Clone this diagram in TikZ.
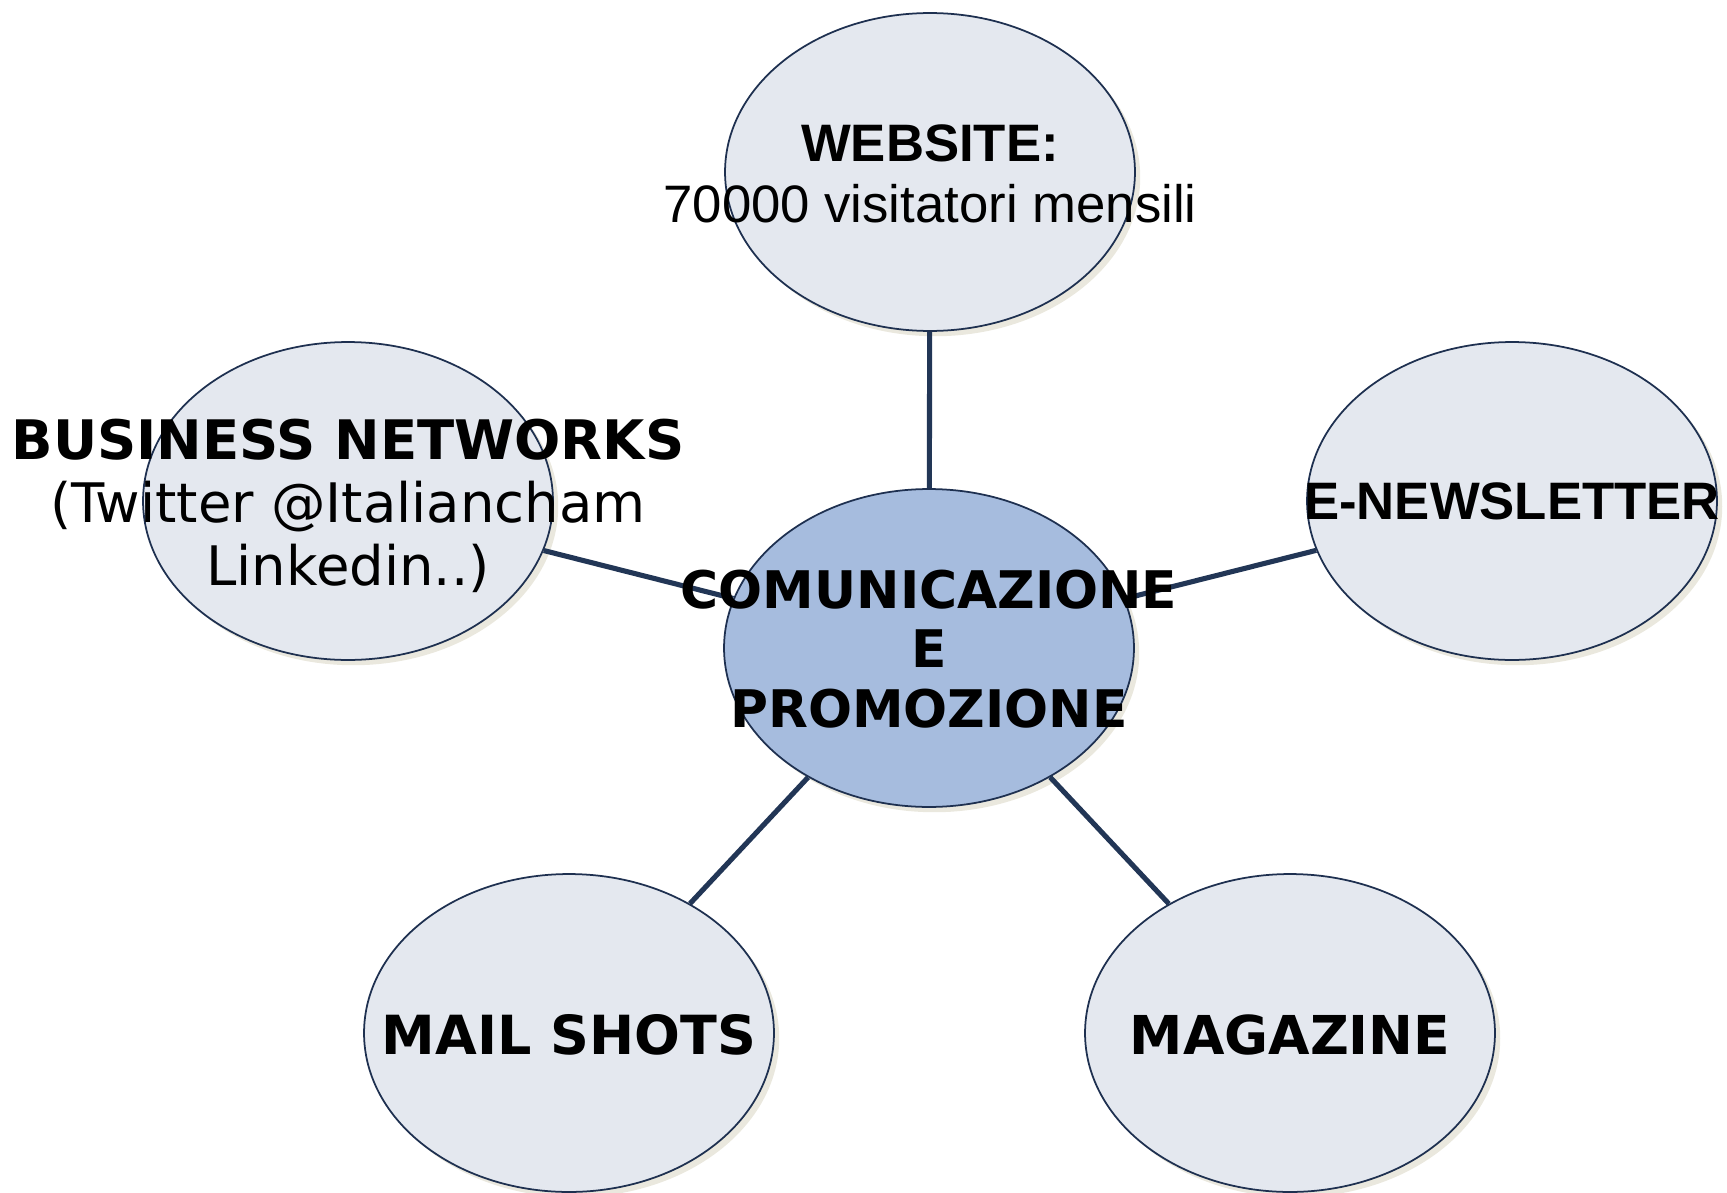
\documentclass[tikz,border=0pt]{standalone}
\usepackage{fontspec}
\usetikzlibrary{shapes.geometric,shadows}
\newfontfamily\verdfont{DejaVu Sans}
\newfontfamily\arialfont{Liberation Sans}
\definecolor{bubblefill}{RGB}{228,232,239}
\definecolor{corefill}{RGB}{166,188,222}
\definecolor{rim}{RGB}{30,48,80}
\definecolor{spoke}{RGB}{34,54,86}
\definecolor{shade}{RGB}{234,232,222}

\begin{document}
\begin{tikzpicture}[x=0.02cm,y=-0.02cm,
      bubble node/.style={ellipse,draw=rim,line width=1pt,fill=bubblefill,
        minimum width=8.2cm,minimum height=6.36cm,inner sep=0pt,
        drop shadow={shadow xshift=3pt,shadow yshift=-3pt,fill=shade,opacity=1}},
      core node/.style={bubble node,fill=corefill},
      verd text/.style={font=\verdfont\fontsize{31}{36}\selectfont,align=center,inner sep=0pt},
      arial text/.style={font=\arialfont\fontsize{30}{35}\selectfont,align=center,inner sep=0pt}]
 \useasboundingbox (0,0) rectangle (1727,1193);
 \node[bubble node] (web)  at (930,172)  {};
 \node[bubble node] (biz)  at (348,501)  {};
 \node[bubble node] (news) at (1512,501) {};
 \node[bubble node] (mail) at (569,1033) {};
 \node[bubble node] (mag)  at (1290,1033) {};
 \node[core node]   (com)  at (929,648)  {};

\draw[spoke,line width=2.9pt]
 (com) edge (web)
 (com) edge (biz)
 (com) edge (news)
 (com) edge (mail)
 (com) edge (mag)
 ;

 \node[arial text] (webtxt) at (930,174) {\textbf{WEBSITE:}\\70000 visitatori mensili};
 \node[verd text] (biztxt) at (348,506) {\textbf{BUSINESS NETWORKS}\\(Twitter @Italiancham\\Linkedin..)};
 \node[arial text,font=\arialfont\bfseries\fontsize{30}{35}\selectfont] (newstxt) at (1512,501) {E-NEWSLETTER};
 \node[verd text,font=\verdfont\bfseries\fontsize{29.5}{34}\selectfont] (comtxt) at (929,649) {COMUNICAZIONE\\E\\PROMOZIONE};
 \node[verd text,font=\verdfont\bfseries\fontsize{30.7}{36}\selectfont] (mailtxt) at (569,1035) {MAIL SHOTS};
 \node[verd text,font=\verdfont\bfseries\fontsize{30.5}{36}\selectfont] (magtxt) at (1290,1035) {MAGAZINE};
\end{tikzpicture}
\end{document}
